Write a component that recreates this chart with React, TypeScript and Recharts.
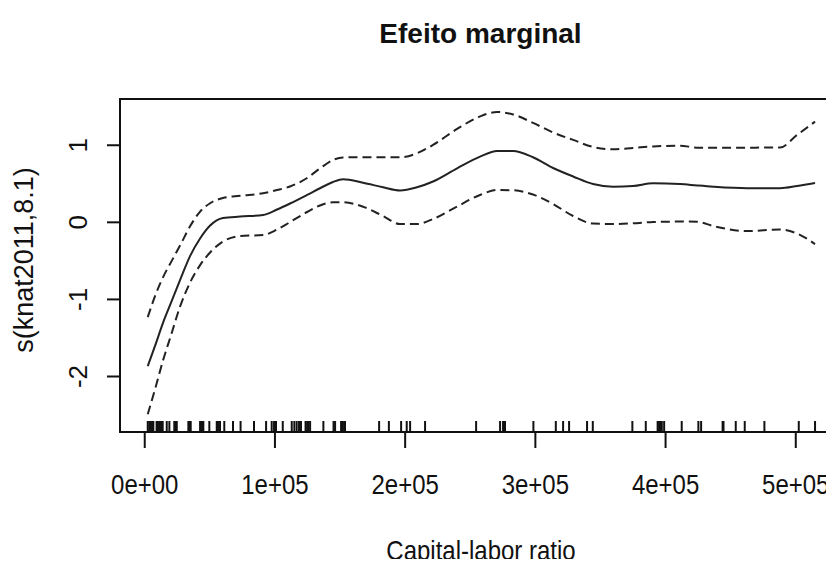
import React from "react";
import {
  ComposedChart,
  Line,
  Scatter,
  XAxis,
  YAxis,
  ReferenceArea,
} from "recharts";

// smooth term of the GAM: knat2011 grid, fitted effect and +/- 2 SE band
const knatGrid = [
  2300, 7900, 14100, 20200, 27100, 34800, 42500, 50200, 60100, 73200, 90900,
  101600, 111600, 124700, 134600, 144600, 152300, 167700, 183000, 196100,
  209100, 221400, 239900, 257500, 270600, 282900, 298200, 313600, 329000,
  344300, 359700, 375000, 390400, 411100, 424200, 436500, 462600, 487900,
  501000, 514800,
];
const fitVals = [
  -1.866, -1.603, -1.301, -1.042, -0.749, -0.438, -0.21, -0.042, 0.056, 0.075,
  0.095, 0.166, 0.244, 0.355, 0.442, 0.523, 0.558, 0.514, 0.455, 0.413, 0.455,
  0.53, 0.701, 0.852, 0.926, 0.926, 0.844, 0.705, 0.595, 0.497, 0.462, 0.471,
  0.506, 0.497, 0.478, 0.462, 0.442, 0.442, 0.471, 0.51,
];
const upperVals = [
  -1.23, -0.957, -0.71, -0.516, -0.301, -0.052, 0.14, 0.248, 0.316, 0.345,
  0.377, 0.419, 0.465, 0.575, 0.699, 0.809, 0.842, 0.844, 0.844, 0.844, 0.896,
  1.004, 1.212, 1.374, 1.432, 1.4, 1.29, 1.166, 1.069, 0.978, 0.948, 0.965,
  0.984, 0.995, 0.969, 0.969, 0.969, 0.971, 1.134, 1.306,
];
const lowerVals = [
  -2.49, -2.165, -1.788, -1.464, -1.094, -0.782, -0.555, -0.392, -0.249,
  -0.178, -0.165, -0.094, 0.004, 0.134, 0.218, 0.26, 0.26, 0.203, 0.082,
  -0.022, -0.022, 0.043, 0.205, 0.355, 0.419, 0.416, 0.361, 0.238, 0.082,
  -0.016, -0.022, -0.013, 0.004, 0.01, 0.008, -0.048, -0.113, -0.094, -0.145,
  -0.282,
];

// observed knat2011 values, drawn as a rug along the bottom
const rugKnat = [
  2300, 3500, 4500, 5600, 6600, 9100, 9800, 10600, 11400, 12100, 12900, 13800,
  16900, 18900, 22700, 23700, 24600, 33500, 34400, 35300, 42500, 43200, 44200,
  45000, 49600, 55300, 56100, 57100, 57800, 61100, 67800, 73600, 83900, 93200,
  97500, 99300, 100800, 106000, 112900, 114900, 116700, 118500, 120000,
  123500, 124700, 125800, 127000, 137200, 145000, 146200, 150800, 151900,
  153100, 153800, 180000, 187500, 196900, 201200, 203800, 215300, 254500,
  272900, 275200, 276000, 276700, 298500, 315700, 321300, 325900, 339700,
  344100, 374500, 384800, 393900, 395000, 396200, 397100, 398900, 412400,
  425200, 427300, 443800, 444500, 453900, 460800, 475900, 502300, 514800,
];

const xTicks = [0, 100000, 200000, 300000, 400000, 500000];
const yTicks = [-2, -1, 0, 1];

const X_DOMAIN: [number, number] = [-19000, 535500];
const Y_DOMAIN: [number, number] = [-2.72, 1.6];

const FONT = "'Liberation Sans', Arial, Helvetica, sans-serif";
const INK = "#111";

const curveRows = knatGrid.map((x, i) => ({
  x,
  fit: fitVals[i],
  upper: upperVals[i],
  lower: lowerVals[i],
}));
const rugRows = rugKnat.map((x) => ({ x, y: Y_DOMAIN[0] }));

// R-style scientific labels: 1e+05
const sci = (v: number) => {
  const [m, e] = v.toExponential(0).split("e");
  return `${m}e${e[0]}${e.slice(1).padStart(2, "0")}`;
};

const XTick = (props: any) => (
  <text
    transform={`translate(${props.x},494) scale(1,1.12)`}
    textAnchor="middle"
    fontSize={24}
    fontFamily={FONT}
    fill={INK}
  >
    {sci(props.payload.value)}
  </text>
);

const YTick = (props: any) => (
  <text
    transform={`translate(87,${props.y}) rotate(-90)`}
    textAnchor="middle"
    fontSize={26}
    fontFamily={FONT}
    fill={INK}
  >
    {String(props.payload.value)}
  </text>
);

const RugMark = (props: any) => (
  <line
    x1={props.cx}
    x2={props.cx}
    y1={props.cy}
    y2={props.cy - 11}
    stroke={INK}
    strokeWidth={2}
  />
);

export default function App() {
  return (
    <div
      style={{
        margin: "-8px",
        width: 834,
        height: 567,
        overflow: "hidden",
        position: "relative",
        background: "#fff",
      }}
    >
      <ComposedChart
        width={870}
        height={567}
        data={curveRows}
        margin={{ top: 99, right: 28, bottom: 0, left: 0 }}
      >
        <XAxis
          type="number"
          dataKey="x"
          domain={X_DOMAIN}
          allowDataOverflow
          ticks={xTicks}
          interval={0}
          height={135}
          tickSize={16}
          tick={<XTick />}
          stroke={INK}
          strokeWidth={2}
        />
        <YAxis
          type="number"
          domain={Y_DOMAIN}
          allowDataOverflow
          ticks={yTicks}
          interval={0}
          width={120}
          tickSize={13}
          tick={<YTick />}
          stroke={INK}
          strokeWidth={2}
        />
        <ReferenceArea
          x1={X_DOMAIN[0]}
          x2={X_DOMAIN[1]}
          y1={Y_DOMAIN[0]}
          y2={Y_DOMAIN[1]}
          fill="none"
          stroke={INK}
          strokeWidth={2}
        />
        <Line
          dataKey="upper"
          type="monotone"
          stroke="#222"
          strokeWidth={2}
          strokeDasharray="9 5"
          dot={false}
          isAnimationActive={false}
        />
        <Line
          dataKey="fit"
          type="monotone"
          stroke="#222"
          strokeWidth={2}
          dot={false}
          isAnimationActive={false}
        />
        <Line
          dataKey="lower"
          type="monotone"
          stroke="#222"
          strokeWidth={2}
          strokeDasharray="9 5"
          dot={false}
          isAnimationActive={false}
        />
        <Scatter
          data={rugRows}
          dataKey="y"
          shape={<RugMark />}
          isAnimationActive={false}
        />
      </ComposedChart>
      <svg
        width={834}
        height={567}
        style={{ position: "absolute", left: 0, top: 0, pointerEvents: "none" }}
      >
        <text
          x={480.5}
          y={43}
          textAnchor="middle"
          fontSize={28}
          fontWeight="bold"
          fontFamily={FONT}
          fill={INK}
        >
          Efeito marginal
        </text>
        <text
          transform="translate(481,560) scale(1,1.12)"
          textAnchor="middle"
          fontSize={24}
          fontFamily={FONT}
          fill={INK}
        >
          Capital-labor ratio
        </text>
        <text
          transform="translate(33,260) rotate(-90)"
          textAnchor="middle"
          fontSize={27}
          fontFamily={FONT}
          fill={INK}
        >
          s(knat2011,8.1)
        </text>
      </svg>
    </div>
  );
}
